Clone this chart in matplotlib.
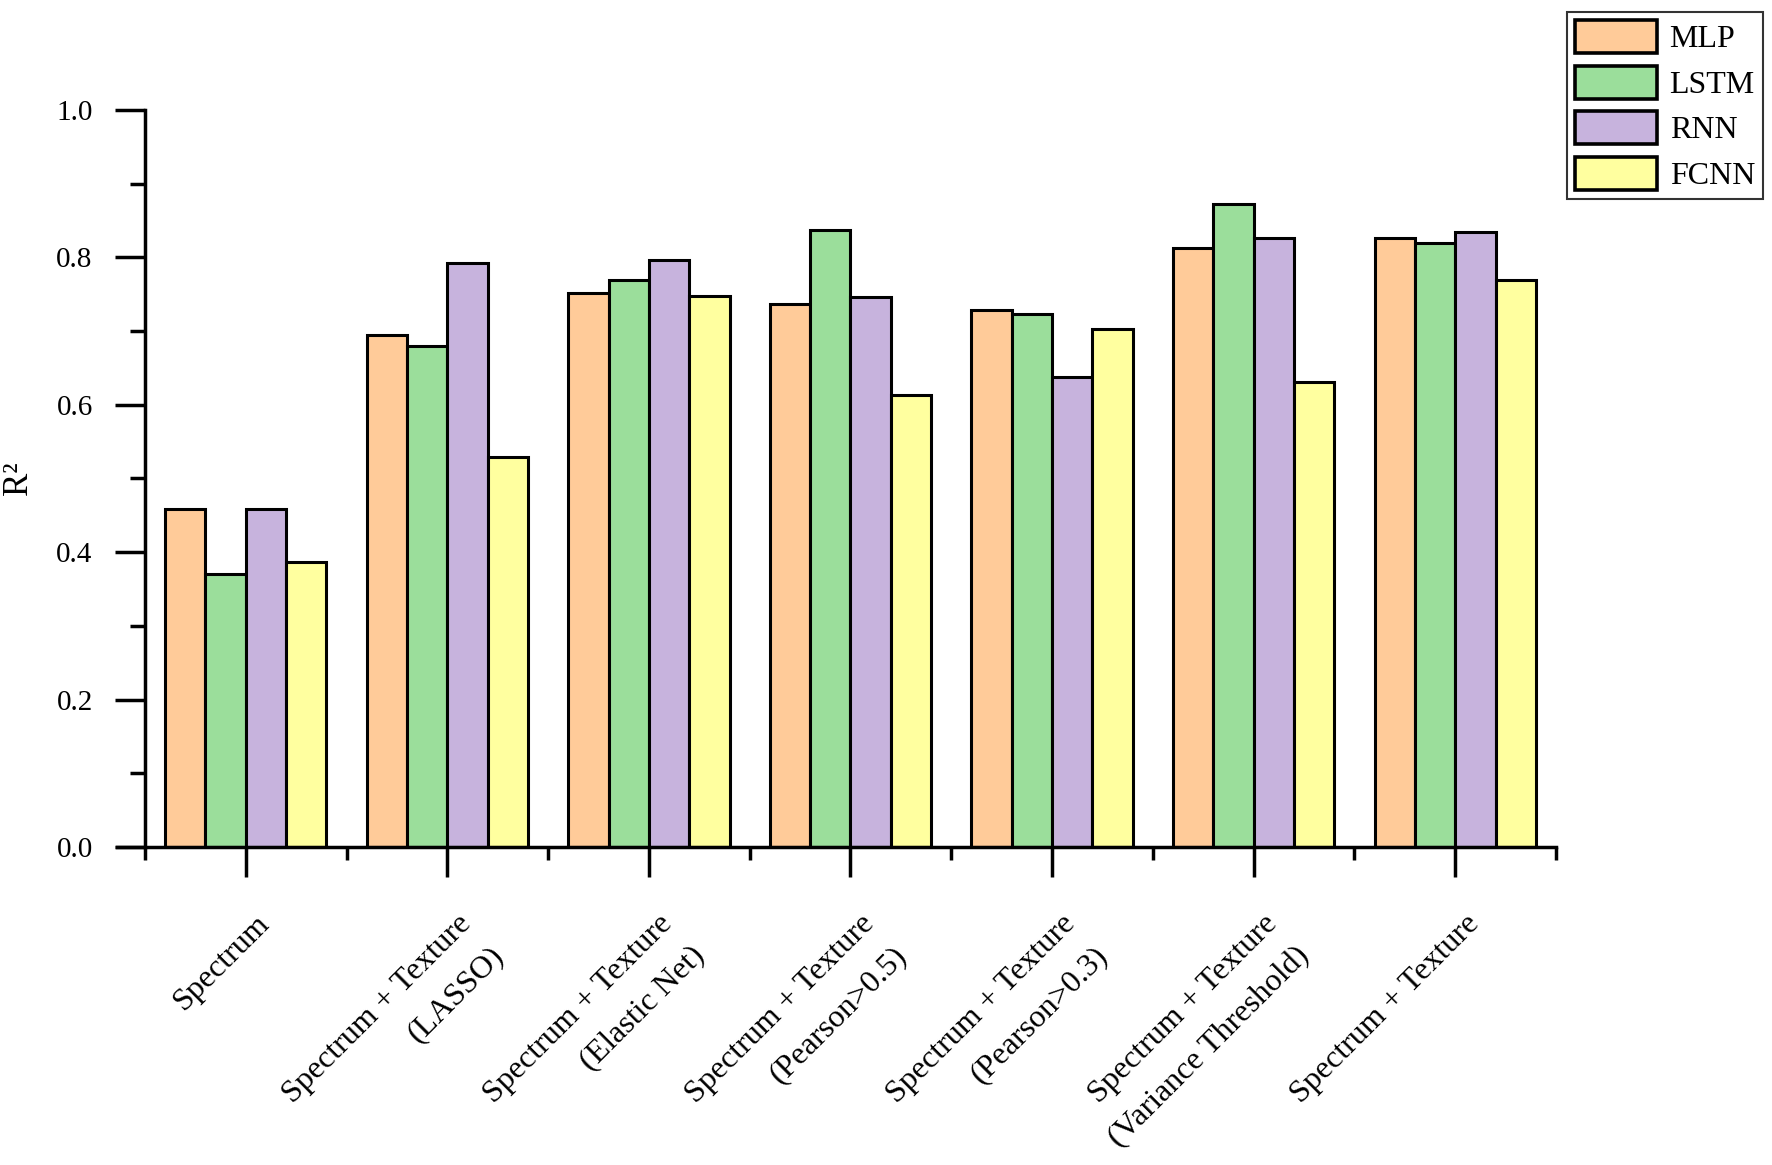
import matplotlib.pyplot as plt
import matplotlib.transforms as mtransforms
import numpy as np
from matplotlib.ticker import FormatStrFormatter, MultipleLocator

categories = [
    "Spectrum",
    "Spectrum + Texture\n(LASSO)",
    "Spectrum + Texture\n(Elastic Net)",
    "Spectrum + Texture\n(Pearson>0.5)",
    "Spectrum + Texture\n(Pearson>0.3)",
    "Spectrum + Texture\n(Variance Threshold)",
    "Spectrum + Texture",
]
models = ["MLP", "LSTM", "RNN", "FCNN"]

mlp = [0.458, 0.695, 0.752, 0.737, 0.728, 0.813, 0.826]
lstm = [0.370, 0.680, 0.769, 0.837, 0.723, 0.872, 0.820]
rnn = [0.458, 0.792, 0.797, 0.746, 0.638, 0.826, 0.834]
fcnn = [0.386, 0.529, 0.748, 0.613, 0.703, 0.631, 0.769]

colors = ["#FFCB99", "#9BDE9B", "#C7B3DD", "#FFFF9F"]

plt.rcParams["font.family"] = ["Liberation Serif", "DejaVu Serif"]

fig = plt.figure(figsize=(17.72, 11.65), dpi=100)
ax = fig.add_axes([0.0660, 0.2730, 0.8121, 0.6326])

x = np.arange(len(categories))
width = 0.2
for i, (vals, name) in enumerate(zip([mlp, lstm, rnn, fcnn], models)):
    ax.bar(x + (i - 1.5) * width, vals, width, color=colors[i], edgecolor="black",
           linewidth=2.2, label=name, zorder=2)

# x 轴左端比 y 轴多出一截
ax.set_xlim(-0.639, len(categories) - 0.5)
ax.set_ylim(0, 1.0)
ax.spines["left"].set_position(("data", -0.5))
ax.yaxis.set_major_locator(MultipleLocator(0.2))
ax.yaxis.set_minor_locator(MultipleLocator(0.1))
ax.yaxis.set_major_formatter(FormatStrFormatter("%.1f"))
ax.set_xticks(x)
ax.set_xticks(np.arange(-0.5, len(categories), 1.0), minor=True)

for side in ["top", "right"]:
    ax.spines[side].set_visible(False)
for side in ["left", "bottom"]:
    ax.spines[side].set_linewidth(2.5)
ax.tick_params(axis="y", which="major", direction="out", length=21.6, width=2.5, pad=16)
ax.tick_params(axis="y", which="minor", direction="out", length=10.8, width=2.5)
ax.tick_params(axis="x", which="major", direction="out", length=21.6, width=2.5, pad=23)
ax.tick_params(axis="x", which="minor", direction="out", length=9.5, width=2.5)

# tick_params 会重置标签变换，所以放在它后面
ax.set_xticklabels(categories, rotation=45, ha="right", va="top",
                   rotation_mode="anchor", fontsize=23)
shift = mtransforms.ScaledTranslation(0.09, 0, fig.dpi_scale_trans)
for lab in ax.get_xticklabels():
    lab.set_multialignment("right")
    lab.set_linespacing(1.75)
    lab.set_transform(lab.get_transform() + shift)
for lab in ax.get_yticklabels():
    lab.set_fontsize(21)
ax.set_ylabel("R²", fontsize=25)
ax.yaxis.set_label_coords(-0.057, 0.5)

leg = ax.legend(loc="upper right", bbox_to_anchor=(0.9949, 0.9897), bbox_transform=fig.transFigure,
                fontsize=23, frameon=True, fancybox=False, edgecolor="black",
                handlelength=2.55, handleheight=1.22, labelspacing=0.35, handletextpad=0.4,
                borderpad=0.25, borderaxespad=0)
leg.get_frame().set_linewidth(1.5)
for patch in leg.get_patches():
    patch.set_linewidth(2.6)

fig.savefig("out.png", dpi=100)
plt.close(fig)
